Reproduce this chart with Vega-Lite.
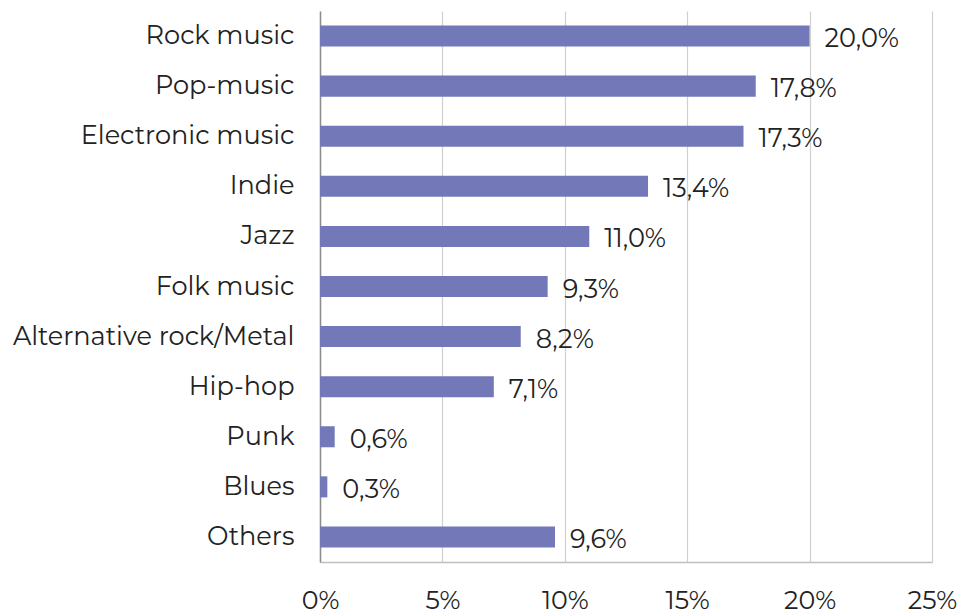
{
  "$schema": "https://vega.github.io/schema/vega-lite/v6.json",
  "width": 612,
  "height": 551,
  "autosize": "none",
  "padding": {"left": 320, "top": 11, "right": 31, "bottom": 51},
  "background": "white",
  "config": {
    "locale": {"number": {"decimal": ",", "thousands": ".", "grouping": [3], "currency": ["", " €"]}},
    "view": {"stroke": null},
    "font": "Montserrat, DejaVu Sans"
  },
  "data": {
    "values": [
      {"genre": "Rock music", "share": 0.200},
      {"genre": "Pop-music", "share": 0.178},
      {"genre": "Electronic music", "share": 0.173},
      {"genre": "Indie", "share": 0.134},
      {"genre": "Jazz", "share": 0.110},
      {"genre": "Folk music", "share": 0.093},
      {"genre": "Alternative rock/Metal", "share": 0.082},
      {"genre": "Hip-hop", "share": 0.071},
      {"genre": "Punk", "share": 0.006},
      {"genre": "Blues", "share": 0.003},
      {"genre": "Others", "share": 0.096}
    ]
  },
  "encoding": {
    "y": {
      "field": "genre", "type": "nominal", "sort": null,
      "scale": {"paddingInner": 0.58, "paddingOuter": 0.29},
      "axis": {
        "title": null, "ticks": false, "labelPadding": 26, "labelFontSize": 25.6,
        "labelColor": "#222222", "domainColor": "#8c8c8c", "domainWidth": 1.5, "labelLimit": 400
      }
    },
    "x": {
      "field": "share", "type": "quantitative",
      "scale": {"domain": [0, 0.25], "nice": false},
      "axis": {
        "title": null, "format": ".0%", "values": [0, 0.05, 0.1, 0.15, 0.2, 0.25],
        "ticks": false, "labelPadding": 26, "labelFontSize": 25.3, "labelColor": "#222222",
        "domainColor": "#bfbfbf", "domainWidth": 1.5, "gridColor": "#d0d0d0", "gridWidth": 1.2,
        "labelFlush": false
      }
    }
  },
  "layer": [
    {"mark": {"type": "bar", "color": "#7278b8"}},
    {
      "mark": {"type": "text", "align": "left", "baseline": "middle", "dx": 15, "dy": 3, "fontSize": 25.6, "color": "#222222"},
      "encoding": {"text": {"field": "share", "type": "quantitative", "format": ".1%"}}
    }
  ]
}
